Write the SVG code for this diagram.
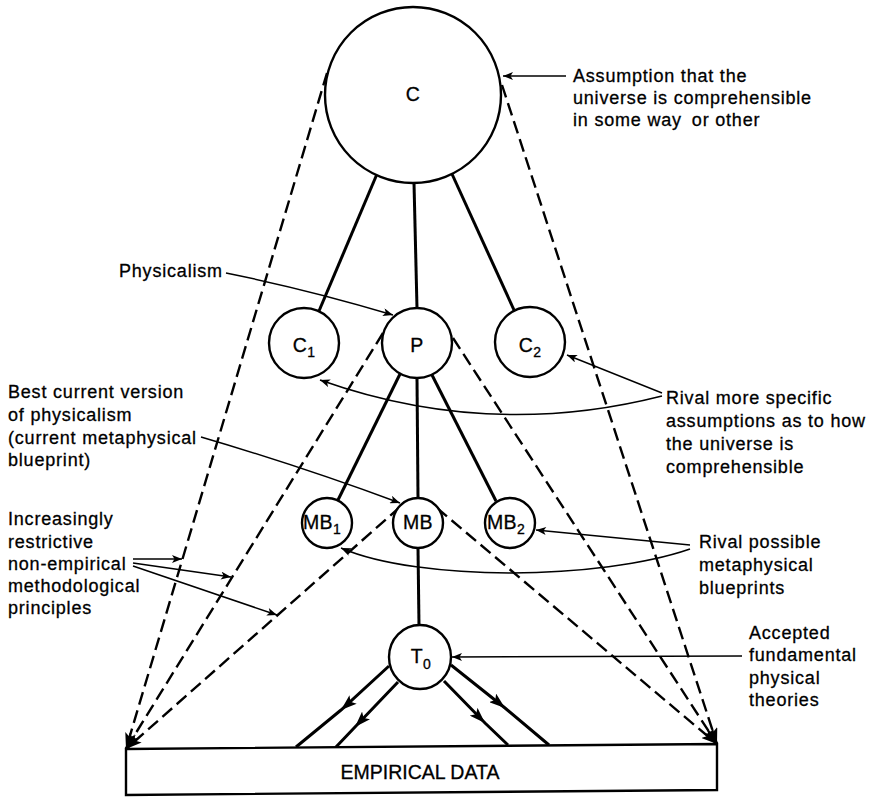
<svg xmlns="http://www.w3.org/2000/svg" width="870" height="797" viewBox="0 0 870 797">
<defs>
<style>
.node{fill:#fff;stroke:#000;stroke-width:2.4}
.lbl{font-family:"Liberation Sans",Arial,Helvetica,sans-serif;font-size:18px;letter-spacing:0.8px;fill:#000;stroke:#000;stroke-width:0.3}
.nl{font-family:"Liberation Sans",Arial,Helvetica,sans-serif;font-size:19.5px;letter-spacing:0.3px;fill:#000;stroke:#000;stroke-width:0.3;text-anchor:middle}
.sub{font-size:14px}
.solid{stroke:#000;stroke-width:3;fill:none}
.dash{stroke:#000;stroke-width:2.4;fill:none;stroke-dasharray:13 6}
.ann{stroke:#000;stroke-width:1.5;fill:none}
</style>
<marker id="ah" viewBox="0 0 10 8" refX="10" refY="4" markerWidth="11" markerHeight="8" markerUnits="userSpaceOnUse" orient="auto"><path d="M0,0 L10,4 L0,8 L2.5,4 z" fill="#000"/></marker>
<marker id="ahd" viewBox="0 0 16 11" refX="16" refY="5.5" markerWidth="16" markerHeight="11" markerUnits="userSpaceOnUse" orient="auto"><path d="M0,0 L16,5.5 L0,11 L3.5,5.5 z" fill="#000"/></marker>
<marker id="ahm" viewBox="0 0 16 11" refX="16" refY="5.5" markerWidth="16" markerHeight="11" markerUnits="userSpaceOnUse" orient="auto"><path d="M0,0 L16,5.5 L0,11 L3.5,5.5 z" fill="#000"/></marker>
</defs>

<g id="connectors">
<!-- dashed cone lines -->
<line class="dash" x1="327" y1="73" x2="126" y2="749" marker-end="url(#ahd)"/>
<line class="dash" x1="502" y1="85" x2="717" y2="744" marker-end="url(#ahd)"/>
<line class="dash" x1="383" y1="333" x2="126" y2="749" marker-end="url(#ahd)"/>
<line class="dash" x1="453" y1="338" x2="717" y2="744" marker-end="url(#ahd)"/>
<line class="dash" x1="400" y1="507" x2="126" y2="749" marker-end="url(#ahd)"/>
<line class="dash" x1="437" y1="508" x2="717" y2="744" marker-end="url(#ahd)"/>
<!-- solid tree lines -->
<line class="solid" x1="377" y1="174" x2="319" y2="311"/>
<line class="solid" x1="414" y1="183" x2="417" y2="308"/>
<line class="solid" x1="452" y1="174" x2="514" y2="310"/>
<line class="solid" x1="400" y1="374" x2="338" y2="500"/>
<line class="solid" x1="417" y1="378" x2="418" y2="498"/>
<line class="solid" x1="432" y1="375" x2="496" y2="501"/>
<line class="solid" x1="418" y1="548" x2="419" y2="626"/>
<!-- T0 to data -->
<polyline class="solid" points="389,666 341,710 296,747" marker-mid="url(#ahm)"/>
<polyline class="solid" points="398,682 355,727 336,747" marker-mid="url(#ahm)"/>
<polyline class="solid" points="444,681 485,723 508,745" marker-mid="url(#ahm)"/>
<polyline class="solid" points="451,665 505,708 549,745" marker-mid="url(#ahm)"/>
<!-- annotation arrows -->
<line class="ann" x1="566" y1="76" x2="503" y2="76" marker-end="url(#ah)"/>
<path class="ann" d="M226,273 Q310,290 393,315" marker-end="url(#ah)"/>
<line class="ann" x1="662" y1="393" x2="567" y2="355" marker-end="url(#ah)"/>
<path class="ann" d="M662,396 Q489,440 320,380" marker-end="url(#ah)"/>
<path class="ann" d="M201,437 Q300,466 400,503" marker-end="url(#ah)"/>
<path class="ann" d="M133,559 L182,559" marker-end="url(#ah)"/>
<path class="ann" d="M133,563 L231,577" marker-end="url(#ah)"/>
<path class="ann" d="M133,566 L277,615" marker-end="url(#ah)"/>
<line class="ann" x1="690" y1="545" x2="536" y2="530" marker-end="url(#ah)"/>
<path class="ann" d="M690,549 C600,580 420,582 341,548" marker-end="url(#ah)"/>
<line class="ann" x1="742" y1="656" x2="452" y2="657" marker-end="url(#ah)"/>
</g>

<g id="node-C"><circle class="node" cx="413" cy="95" r="88"/><text class="nl" x="413" y="101">C</text></g>
<g id="node-C1"><circle class="node" cx="304" cy="343" r="35"/><text class="nl" x="304" y="352">C<tspan class="sub" dy="5">1</tspan></text></g>
<g id="node-P"><circle class="node" cx="417" cy="343" r="35"/><text class="nl" x="417" y="352">P</text></g>
<g id="node-C2"><circle class="node" cx="530" cy="342" r="35"/><text class="nl" x="530" y="352">C<tspan class="sub" dy="5">2</tspan></text></g>
<g id="node-MB1"><circle class="node" cx="327" cy="523" r="25"/><text class="nl" x="322" y="529">MB<tspan class="sub" dy="5">1</tspan></text></g>
<g id="node-MB"><circle class="node" cx="418" cy="523" r="25"/><text class="nl" x="418" y="529">MB</text></g>
<g id="node-MB2"><circle class="node" cx="510" cy="523" r="25"/><text class="nl" x="506" y="529">MB<tspan class="sub" dy="5">2</tspan></text></g>
<g id="node-T0"><ellipse class="node" cx="420" cy="657" rx="31" ry="32"/><text class="nl" x="421" y="663">T<tspan class="sub" dy="6">0</tspan></text></g>
<g id="node-data"><polygon class="node" points="126,749 717,744 717,790 126,795"/><text class="nl" x="420" y="779" style="letter-spacing:0">EMPIRICAL DATA</text></g>

<g id="labels">
<text class="lbl" x="573" y="82">Assumption that the</text>
<text class="lbl" x="573" y="104">universe is comprehensible</text>
<text class="lbl" x="573" y="126">in some way<tspan dx="10">or other</tspan></text>
<text class="lbl" x="119" y="277">Physicalism</text>
<text class="lbl" x="666" y="404">Rival more specific</text>
<text class="lbl" x="666" y="427">assumptions as to how</text>
<text class="lbl" x="666" y="450">the universe is</text>
<text class="lbl" x="666" y="473">comprehensible</text>
<text class="lbl" x="8" y="398">Best current version</text>
<text class="lbl" x="8" y="421">of physicalism</text>
<text class="lbl" x="8" y="444">(current metaphysical</text>
<text class="lbl" x="8" y="466">blueprint)</text>
<text class="lbl" x="8" y="525">Increasingly</text>
<text class="lbl" x="8" y="548">restrictive</text>
<text class="lbl" x="8" y="570">non-empirical</text>
<text class="lbl" x="8" y="592">methodological</text>
<text class="lbl" x="8" y="614">principles</text>
<text class="lbl" x="699" y="548">Rival possible</text>
<text class="lbl" x="699" y="571">metaphysical</text>
<text class="lbl" x="699" y="594">blueprints</text>
<text class="lbl" x="749" y="639">Accepted</text>
<text class="lbl" x="749" y="661">fundamental</text>
<text class="lbl" x="749" y="684">physical</text>
<text class="lbl" x="749" y="706">theories</text>
</g>
</svg>
